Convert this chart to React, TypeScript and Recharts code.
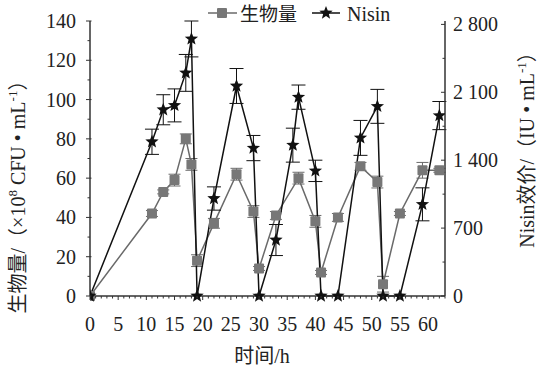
import React from 'react';
import { LineChart, Line, XAxis, YAxis, ErrorBar } from 'recharts';

// biomass (×10^8 CFU/mL), left axis
const bioTime = [0, 11, 13, 15, 17, 18, 19, 22, 26, 29, 30, 33, 37, 40, 41, 44, 48, 51, 52, 55, 59, 62];
const bioValue = [0, 42, 53, 59, 80, 67, 18, 37, 62, 43, 14, 41, 60, 38, 12, 40, 66, 58, 6, 42, 64, 64];
const bioError = [0, 1.5, 1, 3, 2.5, 3, 3, 2.5, 3, 3, 1, 2, 3, 3, 1, 2, 2, 3, 4, 1, 4, 1];

// Nisin titre (IU/mL), right axis
const nisinTime = [0, 11, 13, 15, 17, 18, 19, 22, 26, 29, 30, 33, 36, 37, 40, 41, 44, 48, 51, 52, 55, 59, 62];
const nisinValue = [0, 1590, 1920, 1965, 2300, 2650, 0, 1005, 2165, 1525, 0, 577, 1555, 2050, 1290, 0, 0, 1630, 1955, 0, 0, 945, 1860];
const nisinError = [0, 130, 155, 170, 190, 185, 0, 120, 180, 130, 0, 160, 175, 125, 110, 0, 0, 180, 175, 0, 0, 170, 145];

const xTicks = Array.from({ length: 64 }, (_, i) => i);
const leftTicks = [0, 10, 20, 30, 40, 50, 60, 70, 80, 90, 100, 110, 120, 130, 140];
const rightTicks = [0, 350, 700, 1050, 1400, 1750, 2100, 2450, 2800];

const bioRows = bioTime.map((t, i) => ({ t, value: bioValue[i], err: bioError[i] }));
const nisinRows = nisinTime.map((t, i) => ({ t, value: nisinValue[i], err: nisinError[i] }));

const AXIS = '#333';
const GRAY = '#6a6a6a';
const SERIF = '"Liberation Serif", "Times New Roman", serif';
const CJK = '"Noto Sans CJK SC", sans-serif';
const FS = 20;

const fmtThousands = (v: number) =>
  v >= 1000 ? `${Math.floor(v / 1000)} ${String(v % 1000).padStart(3, '0')}` : String(v);

const starPath = (cx: number, cy: number, R: number, r: number) => {
  let d = '';
  for (let i = 0; i < 10; i++) {
    const rad = i % 2 === 0 ? R : r;
    const a = -Math.PI / 2 + (i * Math.PI) / 5;
    d += (i ? 'L' : 'M') + (cx + rad * Math.cos(a)).toFixed(2) + ',' + (cy + rad * Math.sin(a)).toFixed(2);
  }
  return d + 'Z';
};

const SquareDot = (p: any) => {
  if (p.cx == null || p.cy == null) return <g key={`b${p.index}`} />;
  return <rect key={`b${p.index}`} x={p.cx - 5} y={p.cy - 5} width={10} height={10} rx={1} fill="#777" />;
};

const StarDot = (p: any) => {
  if (p.cx == null || p.cy == null) return <g key={`n${p.index}`} />;
  return <path key={`n${p.index}`} d={starPath(p.cx, p.cy, 7, 3)} fill="#111" />;
};

const XTick = (props: any) => {
  const { x, y, payload } = props;
  const major = payload.value % 5 === 0;
  return (
    <g>
      <line x1={x} x2={x} y1={y} y2={y + (major ? 4 : 2.5)} stroke={AXIS} strokeWidth={1} />
      {major && (
        <text x={x} y={y + 35} textAnchor="middle" fontFamily={SERIF} fontSize={FS} fill="#222">
          {payload.value}
        </text>
      )}
    </g>
  );
};

const LeftTick = (props: any) => {
  const { x, y, payload } = props;
  const major = payload.value % 20 === 0;
  return (
    <g>
      <line x1={x - (major ? 4 : 2.5)} x2={x + (major ? 1.5 : 0)} y1={y} y2={y} stroke={AXIS} strokeWidth={1} />
      {major && (
        <text x={x - 14} y={y + 7} textAnchor="end" fontFamily={SERIF} fontSize={FS} fill="#222">
          {payload.value}
        </text>
      )}
    </g>
  );
};

const RightTick = (props: any) => {
  const { x, y, payload } = props;
  const major = payload.value % 700 === 0;
  return (
    <g>
      <line x1={x - (major ? 4 : 2.5)} x2={x} y1={y} y2={y} stroke={AXIS} strokeWidth={1} />
      {major && (
        <text x={x + 8} y={y + 7} textAnchor="start" fontFamily={SERIF} fontSize={FS} fill="#222">
          {fmtThousands(payload.value)}
        </text>
      )}
    </g>
  );
};

const Overlay = () => (
  <svg width={541} height={379} style={{ position: 'absolute', left: 0, top: 0, pointerEvents: 'none' }}>
    {/* legend */}
    <line x1={208} x2={237} y1={13} y2={13} stroke={GRAY} strokeWidth={1.5} />
    <rect x={217} y={8} width={10} height={10} rx={1} fill="#777" />
    <text x={240} y={21} fontFamily={CJK} fontSize={19} fill="#222">生物量</text>
    <line x1={312} x2={340} y1={13} y2={13} stroke="#111" strokeWidth={1.5} />
    <path d={starPath(326, 13, 7, 3)} fill="#111" />
    <text x={347} y={21} fontFamily={SERIF} fontSize={FS} fill="#222">Nisin</text>

    {/* left axis title */}
    <text
      transform="translate(25,192) rotate(-90)"
      textAnchor="middle"
      fontFamily={SERIF}
      fontSize={FS}
      fill="#222"
    >
      <tspan fontFamily={CJK}>生物量</tspan>
      <tspan>/</tspan>
      <tspan fontFamily={CJK}>（</tspan>
      <tspan>×10</tspan>
      <tspan fontSize={13} dy={-8}>8</tspan>
      <tspan dy={8}> CFU • mL</tspan>
      <tspan fontSize={13} dy={-8}>-1</tspan>
      <tspan dy={8} fontFamily={CJK}>）</tspan>
    </text>

    {/* right axis title */}
    <text
      transform="translate(534,145) rotate(-90)"
      textAnchor="middle"
      fontFamily={SERIF}
      fontSize={FS}
      fill="#222"
    >
      <tspan>Nisin</tspan>
      <tspan fontFamily={CJK}>效价</tspan>
      <tspan>/</tspan>
      <tspan fontFamily={CJK}>（</tspan>
      <tspan>IU • mL</tspan>
      <tspan fontSize={13} dy={-8}>-1</tspan>
      <tspan dy={8} fontFamily={CJK}>）</tspan>
    </text>

    {/* x axis title */}
    <text x={262} y={363} textAnchor="middle" fontSize={FS} fill="#222">
      <tspan fontFamily={CJK}>时间</tspan>
      <tspan fontFamily={SERIF}>/h</tspan>
    </text>
  </svg>
);

export default function App() {
  return (
    <div style={{ position: 'absolute', left: 0, top: 0, width: 541, height: 379, background: '#fff' }}>
      <LineChart width={541} height={379} margin={{ top: 21, right: 0, bottom: 0, left: 0 }}>
        <XAxis
          dataKey="t"
          type="number"
          domain={[0, 63]}
          ticks={xTicks}
          interval={0}
          allowDataOverflow
          height={83}
          stroke={AXIS}
          strokeWidth={1.5}
          tickLine={false}
          tickSize={0}
          tickMargin={0}
          tick={<XTick />}
        />
        <YAxis
          yAxisId="left"
          orientation="left"
          domain={[0, 140]}
          ticks={leftTicks}
          interval={0}
          width={90}
          stroke={AXIS}
          strokeWidth={1.5}
          tickLine={false}
          tickSize={0}
          tickMargin={0}
          tick={<LeftTick />}
        />
        <YAxis
          yAxisId="right"
          orientation="right"
          domain={[0, 2800]}
          ticks={rightTicks}
          interval={0}
          width={96}
          stroke={AXIS}
          strokeWidth={1.5}
          tickLine={false}
          tickSize={0}
          tickMargin={0}
          tick={<RightTick />}
        />
        <Line
          yAxisId="left"
          data={bioRows}
          dataKey="value"
          name="生物量"
          stroke={GRAY}
          strokeWidth={1.5}
          dot={SquareDot}
          activeDot={false}
          isAnimationActive={false}
        >
          <ErrorBar dataKey="err" width={6} stroke={GRAY} strokeWidth={1} direction="y" />
        </Line>
        <Line
          yAxisId="right"
          data={nisinRows}
          dataKey="value"
          name="Nisin"
          stroke="#111"
          strokeWidth={1.5}
          dot={StarDot}
          activeDot={false}
          isAnimationActive={false}
        >
          <ErrorBar dataKey="err" width={7} stroke="#111" strokeWidth={1} direction="y" />
        </Line>
      </LineChart>
      <Overlay />
    </div>
  );
}
